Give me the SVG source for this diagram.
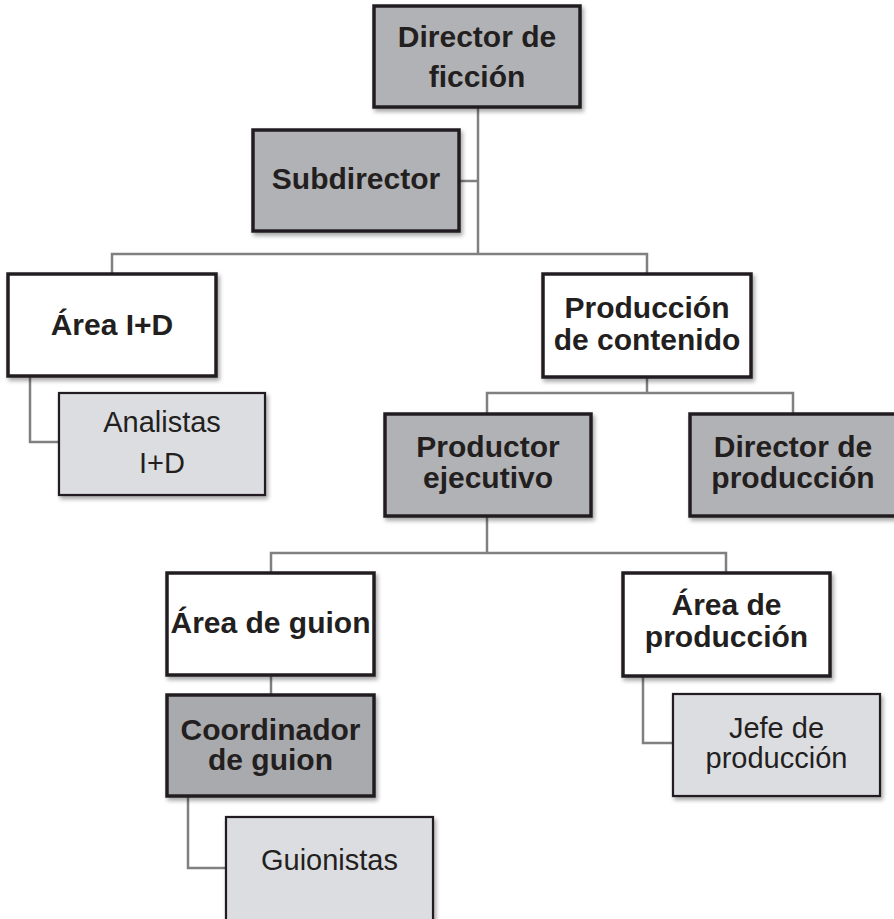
<svg xmlns="http://www.w3.org/2000/svg" width="894" height="919" viewBox="0 0 894 919">
<defs>
<filter id="sh" x="-10%" y="-10%" width="125%" height="130%">
<feDropShadow dx="2" dy="3" stdDeviation="2" flood-color="#000" flood-opacity="0.35"/>
</filter>
<style>
.box{stroke:#231f20;stroke-width:3.5;filter:url(#sh)}
.lbox{stroke:#231f20;stroke-width:2.2;fill:#dcdde0;filter:url(#sh)}
.dark{fill:#b1b2b5}
.white{fill:#ffffff}
.b{font-family:"Liberation Sans",Arial,sans-serif;font-weight:bold;font-size:30px;fill:#231f20;text-anchor:middle}
.r{font-family:"Liberation Sans",Arial,sans-serif;font-size:29px;fill:#231f20;text-anchor:middle}
.c{fill:none;stroke:#808080;stroke-width:2.5}
</style>
</defs>
<rect width="894" height="919" fill="#fff"/>
<g id="connectors">
<path class="c" d="M478 107 V254"/>
<path class="c" d="M459 181 H478"/>
<path class="c" d="M112 274 V254 H647 V274"/>
<path class="c" d="M30 376 V442 H59"/>
<path class="c" d="M647 377 V393"/>
<path class="c" d="M487 414 V393 H793 V414"/>
<path class="c" d="M487 516 V553"/>
<path class="c" d="M271 573 V553 H726 V573"/>
<path class="c" d="M271 675 V695"/>
<path class="c" d="M188 796 V868 H226"/>
<path class="c" d="M643 676 V743 H673"/>
</g>
<g id="director-ficcion">
<rect class="box dark" x="374" y="6" width="206" height="101"/>
<text class="b" x="477" y="47">Director de</text>
<text class="b" x="477" y="87">ficción</text>
</g>
<g id="subdirector">
<rect class="box dark" x="253" y="130" width="206" height="101"/>
<text class="b" x="356" y="189">Subdirector</text>
</g>
<g id="area-id">
<rect class="box white" x="8" y="274" width="208" height="102"/>
<text class="b" x="112" y="335">Área I+D</text>
</g>
<g id="analistas">
<rect class="lbox" x="59" y="393" width="206" height="102"/>
<text class="r" x="162" y="432">Analistas</text>
<text class="r" x="162" y="473">I+D</text>
</g>
<g id="produccion-contenido">
<rect class="box white" x="543" y="274" width="208" height="103"/>
<text class="b" x="647" y="318">Producción</text>
<text class="b" x="647" y="350">de contenido</text>
</g>
<g id="productor-ejecutivo">
<rect class="box dark" x="385" y="414" width="206" height="102"/>
<text class="b" x="488" y="457">Productor</text>
<text class="b" x="488" y="488">ejecutivo</text>
</g>
<g id="director-produccion">
<rect class="box dark" x="690" y="414" width="206" height="102"/>
<text class="b" x="793" y="457">Director de</text>
<text class="b" x="793" y="488">producción</text>
</g>
<g id="area-guion">
<rect class="box white" x="167" y="573" width="207" height="102"/>
<text class="b" x="270.5" y="633">Área de guion</text>
</g>
<g id="coordinador-guion">
<rect class="box dark" x="167" y="695" width="207" height="101" style="fill:#a9aaad"/>
<text class="b" x="270.5" y="740">Coordinador</text>
<text class="b" x="270.5" y="770">de guion</text>
</g>
<g id="guionistas">
<rect class="lbox" x="226" y="817" width="207" height="104"/>
<text class="r" x="329.5" y="870">Guionistas</text>
</g>
<g id="area-produccion">
<rect class="box white" x="623" y="573" width="207" height="103"/>
<text class="b" x="726.5" y="615">Área de</text>
<text class="b" x="726.5" y="647">producción</text>
</g>
<g id="jefe-produccion">
<rect class="lbox" x="673" y="694" width="207" height="102"/>
<text class="r" x="776.5" y="738">Jefe de</text>
<text class="r" x="776.5" y="768">producción</text>
</g>
</svg>
